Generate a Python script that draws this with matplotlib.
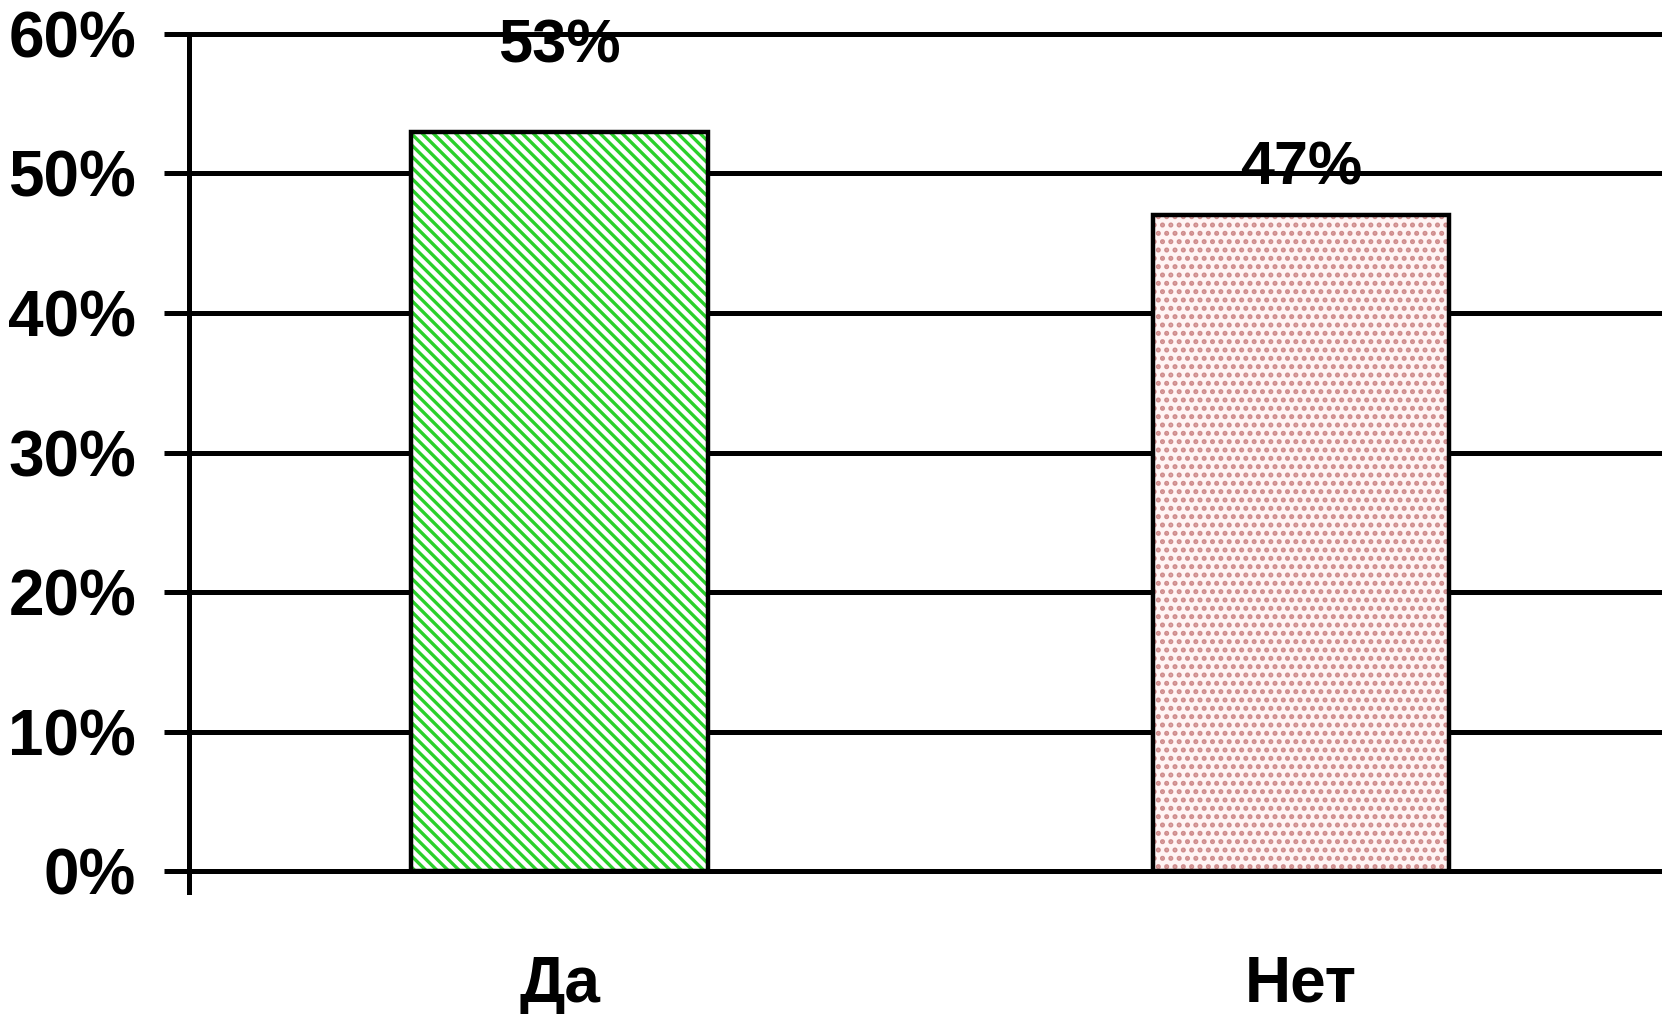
import matplotlib
matplotlib.use('Agg')
import matplotlib.pyplot as plt
from matplotlib.ticker import FuncFormatter

plt.rcParams['font.family'] = ['Liberation Sans', 'DejaVu Sans']
plt.rcParams['font.weight'] = 'bold'
plt.rcParams['hatch.linewidth'] = 2.4

#! данные
categories = ['Да', 'Нет']
values = [53, 47]
value_labels = ['53%', '47%']
label_y = [59.1, 50.3]
y_ticks = [0, 10, 20, 30, 40, 50, 60]

fig = plt.figure(figsize=(16.62, 10.14), dpi=100)
ax = fig.add_axes([0.1137, 0.1203, 0.892, 0.8462])

x = list(range(len(categories)))
# заливка со штриховкой
ax.bar(x[0], values[0], width=0.4, color='white', edgecolor='#2ad02a', hatch='\\\\\\', linewidth=0, zorder=3)
ax.bar(x[1], values[1], width=0.4, color='#fff4f4', edgecolor='#cf8c8c', hatch='..', linewidth=0, zorder=3)
# контур
ax.bar(x, values, width=0.4, color='none', edgecolor='black', linewidth=3.2, zorder=4)

for xi, t, yl in zip(x, value_labels, label_y):
  ax.text(xi, yl, t, ha='center', va='center', fontsize=44, fontweight='bold', zorder=5)

ax.set_xlim(-0.5, 1.5)
ax.set_ylim(-1.5, 60)
ax.set_yticks(y_ticks)
ax.yaxis.set_major_formatter(FuncFormatter(lambda v, p: '%d%%' % v))
ax.set_xticks(x)
ax.set_xticklabels(categories)

for yt in y_ticks:
  ax.axhline(yt, color='black', linewidth=3.6, zorder=2, clip_on=False)

for s in ['top', 'right', 'bottom']:
  ax.spines[s].set_visible(False)
ax.spines['left'].set_linewidth(3.6)

ax.tick_params(axis='y', length=18, width=3.6, pad=20, labelsize=46)
ax.tick_params(axis='x', length=0, pad=45, labelsize=46)

fig.savefig('out.png', dpi=100)
